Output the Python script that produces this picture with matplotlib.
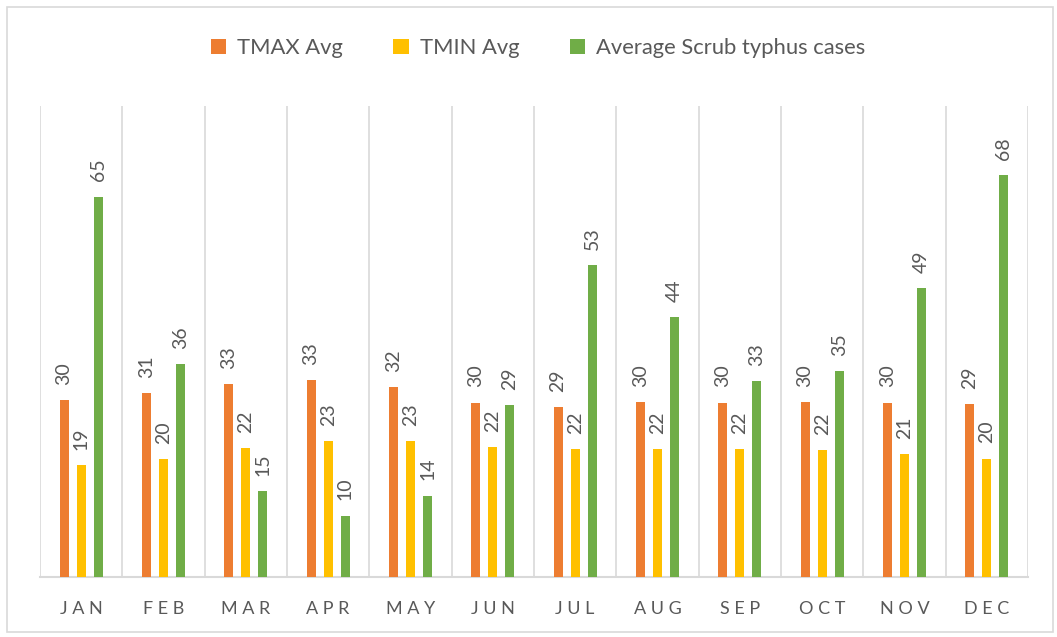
import numpy as np
import matplotlib.pyplot as plt
from matplotlib.patches import Rectangle

plt.rcParams['font.family'] = ['Lato', 'DejaVu Sans']

months = ['JAN', 'FEB', 'MAR', 'APR', 'MAY', 'JUN', 'JUL', 'AUG', 'SEP', 'OCT', 'NOV', 'DEC']
tmax = [30.1, 31.2, 32.8, 33.4, 32.3, 29.6, 28.9, 29.7, 29.6, 29.7, 29.6, 29.4]
tmin = [19.0, 20.0, 21.9, 23.1, 23.1, 22.1, 21.7, 21.7, 21.7, 21.6, 20.9, 20.1]
cases = [64.6, 36.2, 14.6, 10.4, 13.8, 29.2, 53.0, 44.1, 33.3, 35.0, 49.1, 68.2]

series = [('TMAX Avg', tmax, '#ED7D31'),
          ('TMIN Avg', tmin, '#FFC000'),
          ('Average Scrub typhus cases', cases, '#70AD47')]

grey = '#595959'
fig = plt.figure(figsize=(10.57, 6.37), dpi=100)
ax = fig.add_axes([40/1057, 60/637, 988/1057, 471/637])

# outer chart border
fig.patches.append(Rectangle((7/1057, 5/637), 1046/1057, 625/637, transform=fig.transFigure,
                             fill=False, edgecolor='#d9d9d9', linewidth=1.2))

x = np.arange(len(months))
w = 0.11
step = 0.207
for i, (name, vals, col) in enumerate(series):
    bars = ax.bar(x + (i - 1) * step, vals, width=w, color=col, label=name, zorder=3)
    ax.bar_label(bars, labels=['%.0f' % v for v in vals], rotation=90, padding=11,
                 color=grey, fontsize=14)

ax.set_xlim(-0.5, len(months) - 0.5)
ax.set_ylim(0, 80)
for b in np.arange(-0.5, len(months), 1.0):
    ax.axvline(b, color='#d9d9d9', linewidth=1.2, zorder=1)
ax.set_yticks([])
ax.set_xticks(x)
ax.set_xticklabels([' '.join(m) for m in months], color=grey, fontsize=13)
ax.tick_params(axis='x', length=0, pad=17)
for s in ['top', 'right', 'left']:
    ax.spines[s].set_visible(False)
ax.spines['bottom'].set_color('#d9d9d9')
ax.spines['bottom'].set_linewidth(1.5)

fig.legend(loc='center', bbox_to_anchor=(538/1057, 1 - 48/637), ncol=3, frameon=False,
           fontsize=15.8, labelcolor=grey, handlelength=0.7, handleheight=0.7,
           handletextpad=0.5, columnspacing=2.3)

fig.savefig('out.png', dpi=100)
